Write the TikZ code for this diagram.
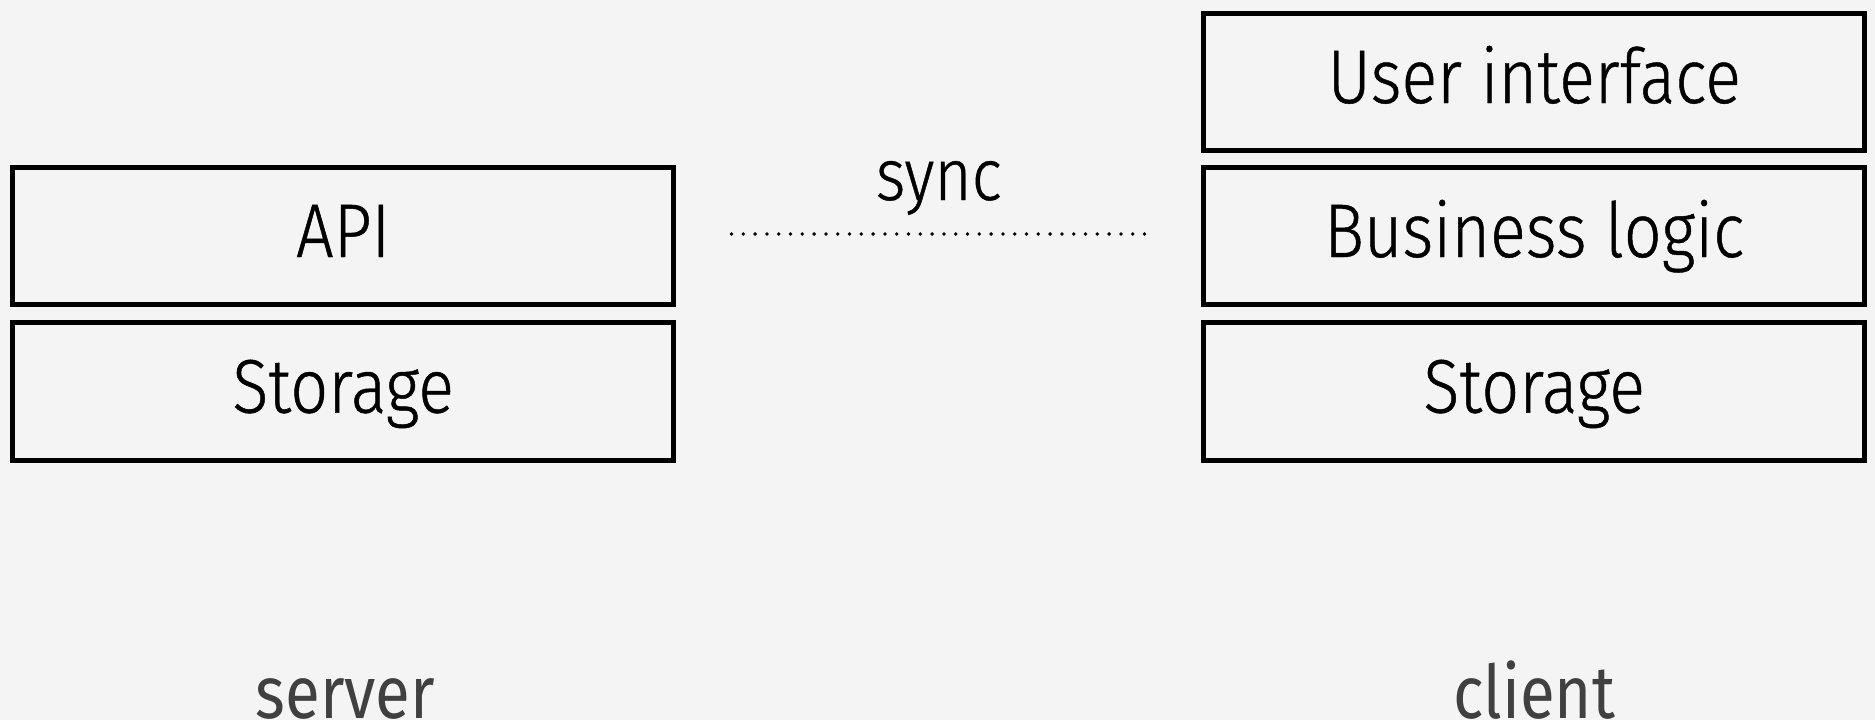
\documentclass[tikz,border=0pt]{standalone}
\usepackage{fontspec}
\setmainfont{Fira Sans}[FakeStretch=0.86]
\newfontfamily\lightfont{Fira Sans Light}[FakeStretch=0.875,FakeBold=0.6]
\begin{document}
\begin{tikzpicture}[x=1pt,y=-1pt,
  layer/.style={draw=black, line width=5pt, fill=none, minimum width=661pt, minimum height=137.5pt,
    inner sep=0pt, text height=52pt, text depth=10pt,
    font=\lightfont\fontsize{76}{76}\selectfont, text=black},
  side/.style={font=\fontsize{74}{74}\selectfont, text=black!75, anchor=base},
  syncline/.style={line width=3.8pt, line cap=round, dash pattern=on 0pt off 11.8pt}]
\fill[gray!9] (0,0) rectangle (1875,720);
\useasboundingbox (0,0) rectangle (1875,720);
\node[layer] (api) at (343.2,236) {API};
\node[layer] (sstore) at (343.2,391.6) {Storage};
\node[layer] (ui) at (1534.2,82) {User interface};
\node[layer] (bl) at (1534.2,236) {Business logic};
\node[layer] (cstore) at (1534.2,391.6) {Storage};
\coordinate (d1) at (731.5,234);
\coordinate (d2) at (1146.5,234);
\draw[syncline] (d1) -- (d2);
\node[font=\lightfont\fontsize{73}{73}\selectfont, anchor=base] (sync) at (938.7,200) {sync};
\node[side] (server) at (345.6,718) {server};
\node[side] (client) at (1534,718) {client};
\end{tikzpicture}
\end{document}
